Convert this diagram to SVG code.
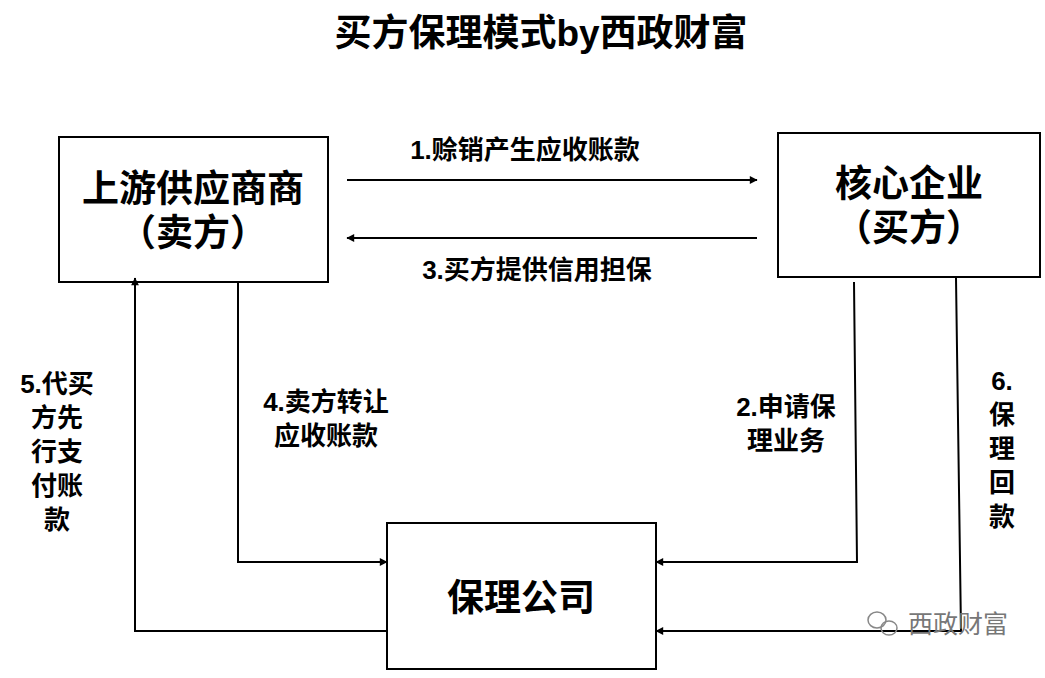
<svg xmlns="http://www.w3.org/2000/svg" width="1045" height="678" viewBox="0 0 1045 678">
<style>
text{font-family:"Liberation Sans","Noto Sans CJK SC",sans-serif;fill:#000}
.n{font-size:37px;font-weight:bold;text-anchor:middle}
.l{font-size:26px;font-weight:bold;text-anchor:middle}
.b{fill:#fff;stroke:#000;stroke-width:2}
.c{fill:none;stroke:#000;stroke-width:2;marker-end:url(#a)}
</style>
<defs><marker id="a" viewBox="0 0 10 10" refX="9" refY="5" markerWidth="6" markerHeight="6" orient="auto" markerUnits="userSpaceOnUse" overflow="visible"><path d="M0,0 L10,5 L0,10 z" fill="#000" transform="translate(-3,-1.5) scale(1.3)" /></marker></defs>
<rect width="1045" height="678" fill="#fff"/>
<text class="n" x="541" y="46">买方保理模式by西政财富</text>
<g id="seller"><rect class="b" x="59" y="137" width="269" height="145"/><text class="n" x="193" y="202">上游供应商商</text><text class="n" x="193" y="246">（卖方）</text></g>
<g id="buyer"><rect class="b" x="778" y="133" width="262" height="144"/><text class="n" x="909" y="197">核心企业</text><text class="n" x="909" y="241">（买方）</text></g>
<g id="factor"><rect class="b" x="387" y="523" width="269" height="146"/><text class="n" x="521" y="611">保理公司</text></g>
<g id="connectors">
<path class="c" d="M347,180 H757"/>
<path class="c" d="M757,238 H347"/>
<path class="c" d="M238,282 V562 H387"/>
<path class="c" d="M854,282 L857,562 H656"/>
<path class="c" d="M956,278 L961,631 H656"/>
<path class="c" d="M387,631 H135 V278"/>
</g>
<g id="labels">
<text class="l" x="525" y="159">1.赊销产生应收账款</text>
<text class="l" x="537" y="279">3.买方提供信用担保</text>
<text class="l" x="326" y="411">4.卖方转让</text><text class="l" x="326" y="445">应收账款</text>
<text class="l" x="786" y="416">2.申请保</text><text class="l" x="786" y="450">理业务</text>
<text class="l" x="1002" y="390">6.</text><text class="l" x="1002" y="424">保</text><text class="l" x="1002" y="458">理</text><text class="l" x="1002" y="492">回</text><text class="l" x="1002" y="526">款</text>
<text class="l" x="57" y="393">5.代买</text><text class="l" x="57" y="427">方先</text><text class="l" x="57" y="461">行支</text><text class="l" x="57" y="495">付账</text><text class="l" x="57" y="529">款</text>
</g>
<g id="watermark" fill="none" stroke="#888" stroke-width="1.5"><ellipse cx="877" cy="620" rx="9" ry="8"/><ellipse cx="889" cy="628" rx="8" ry="7"/></g>
<text x="908" y="633" style="font-size:25px;fill:#777">西政财富</text>
</svg>
